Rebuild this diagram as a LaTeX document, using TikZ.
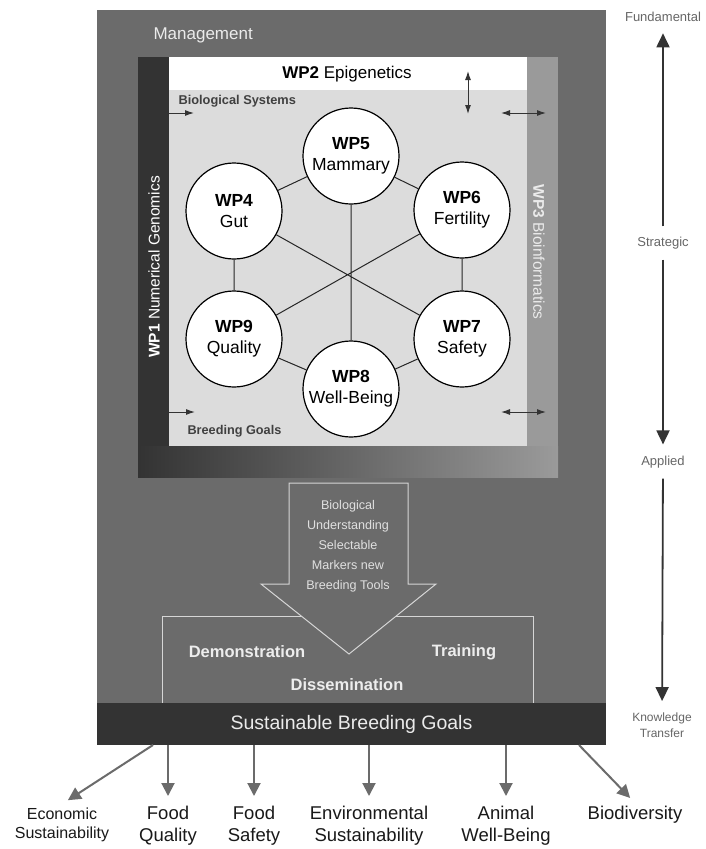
\documentclass[tikz,border=0pt]{standalone}
\usepackage{fontspec}
\setmainfont{Liberation Sans}
\usetikzlibrary{arrows.meta}

\definecolor{mgmt}{HTML}{6B6B6B}
\definecolor{wpone}{HTML}{333333}
\definecolor{wpthree}{HTML}{9A9A9A}
\definecolor{panel}{HTML}{DCDCDC}
\definecolor{goalbar}{HTML}{333333}
\definecolor{flowline}{HTML}{D6D6D6}

\begin{document}
\begin{tikzpicture}[x=1pt,y=-1pt]
\tikzset{
  wp/.style={circle, draw, line width=1.2pt, fill=white, minimum size=96pt, inner sep=0pt, align=center, font=\fontsize{17.5}{21}\selectfont},
  link/.style={line width=1pt, black!85},
  twoway/.style={{Latex[length=9pt,width=6pt]}-{Latex[length=9pt,width=6pt]}, line width=1pt, black!80},
  oneway/.style={-{Latex[length=9pt,width=6pt]}, line width=1pt, black!80},
  level/.style={text=black!60, font=\fontsize{13}{16}\selectfont, align=center},
  span/.style={-{Triangle[length=14pt,width=13pt]}, line width=1.8pt, black!80, shorten >=8pt, shorten <=7pt},
  flowtext/.style={text=white!88!black, align=center, font=\fontsize{12.6}{20}\selectfont},
  dissem/.style={text=white!93!black, font=\bfseries\fontsize{16.5}{20}\selectfont},
  goal/.style={anchor=north, align=center, text=black!90, font=\fontsize{18.5}{21.5}\selectfont},
  goalarrow/.style={-{Triangle[length=13pt,width=13pt]}, line width=2pt, mgmt, shorten >=7pt}
}
\useasboundingbox[fill=white] (0,0) rectangle (706,849);

% management frame
\fill[mgmt] (97,10) rectangle (606,703);
\node[anchor=west, text=white!92!black, font=\fontsize{17}{20}\selectfont] (mgmtlabel) at (150,35) {Management};

% work package panel
\fill[wpone] (138,57) rectangle (169,477);
\fill[wpthree] (527,57) rectangle (558,477);
\shade[left color=wpone, right color=wpthree] (138,446) rectangle (558,477);
\fill[panel] (169,90) rectangle (527,446);
\fill[white] (169,57) rectangle (527,90);

\node[font=\fontsize{17}{20}\selectfont] (wp2) at (347,74) {\textbf{WP2} Epigenetics};
\node[rotate=90, text=white, font=\fontsize{15.5}{18}\selectfont] (wp1) at (154,267) {\textbf{WP1} Numerical Genomics};
\node[rotate=-90, text=white!92!black, font=\fontsize{15.5}{18}\selectfont] (wp3) at (539,252) {\textbf{WP3} Bioinformatics};
\node[anchor=west, text=black!75, font=\bfseries\fontsize{12.8}{15}\selectfont] (biosys) at (175,101) {Biological Systems};
\node[anchor=west, text=black!75, font=\bfseries\fontsize{12.7}{15}\selectfont] (brgoals) at (184,431) {Breeding Goals};

\coordinate (sysin) at (169,113);
\coordinate (sysout) at (194,113);
\coordinate (epitop) at (468,71);
\coordinate (epibot) at (468,114);
\coordinate (bioin) at (501,113);
\coordinate (bioout) at (546,113);
\coordinate (numin) at (151,412);
\coordinate (numout) at (195,412);
\coordinate (infin) at (501,412);
\coordinate (infout) at (546,412);
\draw[oneway] (sysin) -- (sysout);
\draw[twoway] (epitop) -- (epibot);
\draw[twoway] (bioin) -- (bioout);
\draw[twoway] (numin) -- (numout);
\draw[twoway] (infin) -- (infout);

% the six biological work packages
\node[wp] (wp5) at (351,156) {\textbf{WP5}\\Mammary};
\node[wp] (wp4) at (234,211) {\textbf{WP4}\\Gut};
\node[wp] (wp6) at (462,210) {\textbf{WP6}\\Fertility};
\node[wp] (wp9) at (234,339) {\textbf{WP9}\\Quality};
\node[wp] (wp7) at (462,339) {\textbf{WP7}\\Safety};
\node[wp] (wp8) at (351,389) {\textbf{WP8}\\Well-Being};

\draw[link] (wp4) -- (wp5) -- (wp6) -- (wp7) -- (wp8) -- (wp9) -- (wp4);
\draw[link] (wp4) -- (wp7) (wp6) -- (wp9) (wp5) -- (wp8);

% outcome arrow and dissemination
\draw[flowline, line width=1pt] (162,703) -- (162,616) -- (533,616) -- (533,703);
\filldraw[fill=mgmt, draw=flowline, line width=1pt] (289,483) -- (408,483) -- (408,584) -- (436,584) -- (349,654) -- (261,584) -- (289,584) -- cycle;
\node[flowtext] (flow) at (348,546) {Biological\\Understanding\\Selectable\\Markers new\\Breeding Tools};
\node[dissem] (demo) at (247,652) {Demonstration};
\node[dissem] (train) at (464,652) {Training};
\node[dissem] (dissemination) at (347,685) {Dissemination};

\node[fill=goalbar, minimum width=509pt, minimum height=42pt, inner sep=0pt, text=white!92!black, font=\fontsize{19.5}{23}\selectfont] (goals) at (351.5,724) {Sustainable Breeding Goals};

% research levels
\node[level] (fund) at (663,17) {Fundamental};
\node[level, fill=white] (strat) at (663,243) {Strategic};
\node[level] (appl) at (663,462) {Applied};
\node[level, font=\fontsize{12}{16}\selectfont] (know) at (662,725) {Knowledge\\Transfer};
\draw[span] (strat) -- (fund);
\draw[span] (strat) -- (appl);
\draw[span] (appl) -- (know);

% goals
\node[goal, font=\fontsize{16}{19.5}\selectfont] (econ) at (62,804) {Economic\\Sustainability};
\node[goal] (foodq) at (168,803) {Food\\Quality};
\node[goal] (foods) at (254,803) {Food\\Safety};
\node[goal] (env) at (369,803) {Environmental\\Sustainability};
\node[goal] (animal) at (506,803) {Animal\\Well-Being};
\node[goal] (biodiv) at (635,803) {Biodiversity};

\coordinate (g1) at (153,745);
\coordinate (g2) at (168,745);
\coordinate (g3) at (254,745);
\coordinate (g4) at (369,745);
\coordinate (g5) at (506,745);
\coordinate (g6) at (579,745);
\draw[goalarrow] (g1) -- (econ.north);
\draw[goalarrow] (g2) -- (foodq.north);
\draw[goalarrow] (g3) -- (foods.north);
\draw[goalarrow] (g4) -- (env.north);
\draw[goalarrow] (g5) -- (animal.north);
\draw[goalarrow] (g6) -- (biodiv.north);
\end{tikzpicture}
\end{document}
